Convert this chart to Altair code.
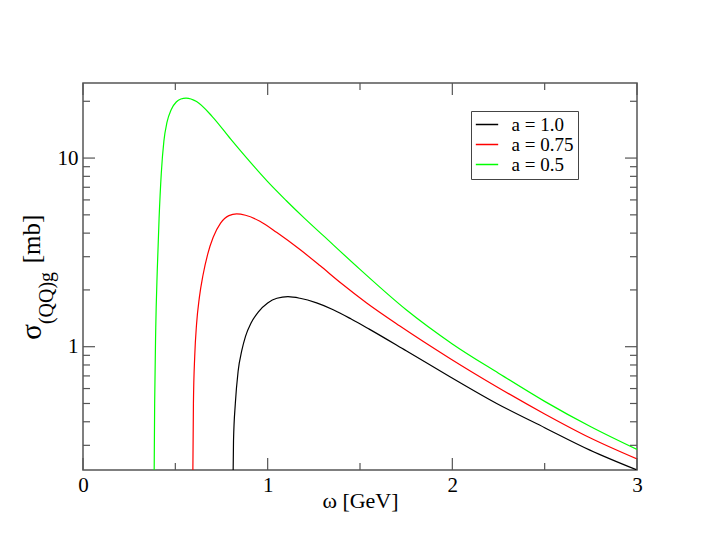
import altair as alt
import pandas as pd

# ---- data ----
x_a10 = [0.809, 0.815, 0.825, 0.840, 0.860, 0.880, 0.910, 0.950, 1.000, 1.050, 1.110,
         1.175, 1.265, 1.355, 1.450, 1.550, 1.750, 1.987, 2.240, 2.500, 2.745, 3.000]
y_a10 = [0.10, 0.316, 0.501, 0.741, 0.955, 1.135, 1.334, 1.531, 1.706, 1.807, 1.841,
         1.806, 1.706, 1.570, 1.406, 1.239, 0.951, 0.693, 0.500, 0.372, 0.283, 0.222]

x_a075 = [0.592, 0.598, 0.605, 0.615, 0.630, 0.650, 0.675, 0.705, 0.745, 0.790, 0.832,
          0.880, 0.958, 1.050, 1.175, 1.283, 1.400, 1.536, 1.716, 1.987, 2.240, 2.500,
          2.745, 3.000]
y_a075 = [0.10, 0.501, 0.891, 1.318, 1.820, 2.399, 3.090, 3.802, 4.519, 4.955, 5.058,
          4.977, 4.624, 4.027, 3.273, 2.692, 2.163, 1.706, 1.288, 0.867, 0.614, 0.440,
          0.329, 0.254]

x_a05 = [0.383, 0.388, 0.394, 0.402, 0.412, 0.424, 0.438, 0.455, 0.478, 0.505, 0.530,
         0.558, 0.615, 0.700, 0.800, 0.900, 1.000, 1.100, 1.200, 1.300, 1.500, 1.750,
         2.000, 2.250, 2.500, 2.750, 3.000]
y_a05 = [0.10, 0.501, 1.259, 2.512, 4.786, 8.318, 12.30, 15.49, 18.11, 19.82, 20.56,
         20.80, 19.95, 16.6, 12.6, 9.66, 7.50, 5.96, 4.79, 3.89, 2.57, 1.57,
         1.035, 0.724, 0.513, 0.376, 0.285]

series_names = ["a = 1.0", "a = 0.75", "a = 0.5"]
series_colors = ["#000000", "#ff0000", "#00ff00"]

x_major = [0, 1, 2, 3]
x_minor = [0.5, 1.5, 2.5]
y_major = [1, 10]
y_minor = [0.3, 0.4, 0.5, 0.6, 0.7, 0.8, 0.9, 2, 3, 4, 5, 6, 7, 8, 9, 20]

x_domain = [0, 3]
y_domain = [0.222, 25]

x_title = "ω [GeV]"
y_title_parts = ["σ", "(QQ)g", "[mb]"]

# ---- layout ----
W, H = 554, 387
FONT = "Liberation Serif"
AX = "#555555"
MAJ, MIN = 12, 7

rows = []
for name, xs, ys in zip(series_names, [x_a10, x_a075, x_a05], [y_a10, y_a075, y_a05]):
    for xv, yv in zip(xs, ys):
        rows.append({"x": xv, "y": yv, "series": name})
df = pd.DataFrame(rows)

xscale = alt.Scale(domain=x_domain, nice=False, zero=False)
yscale = alt.Scale(type="log", domain=y_domain, nice=False)

xaxis = alt.Axis(values=x_major, format="d", grid=False, domain=False, ticks=False,
                 tickSize=0, labelFont=FONT, labelFontSize=21, labelColor="black",
                 labelPadding=4, labelFlush=False, title=x_title, titleFont=FONT,
                 titleFontSize=22, titleFontWeight="normal", titleColor="black", titleY=37,
                 titleBaseline="alphabetic")
yaxis = alt.Axis(values=y_major, format="~g", grid=False, domain=False, ticks=False,
                 tickSize=0, labelFont=FONT, labelFontSize=21, labelColor="black",
                 labelPadding=5, labelFlush=False, title="")

lines = alt.Chart(df).mark_line(strokeWidth=1.2, interpolate="monotone", clip=True).encode(
    x=alt.X("x:Q", scale=xscale, axis=xaxis),
    y=alt.Y("y:Q", scale=yscale, axis=yaxis),
    color=alt.Color("series:N", sort=series_names,
                    scale=alt.Scale(domain=series_names, range=series_colors),
                    legend=alt.Legend(title=None, orient="none", legendX=388, legendY=28,
                                      strokeColor="#444444", padding=4, symbolType="stroke",
                                      symbolSize=500, symbolStrokeWidth=1.5,
                                      labelFont=FONT, labelFontSize=19, labelColor="black",
                                      labelOffset=12.6, rowPadding=0, clipHeight=19.2)),
)

def xticks(vals, length):
    d = pd.DataFrame({"x": vals})
    bottom = alt.Chart(d).mark_rule(color=AX, strokeWidth=1.2).encode(
        x=alt.X("x:Q", scale=xscale, axis=xaxis), y=alt.value(H), y2=alt.value(H - length))
    top = alt.Chart(d).mark_rule(color=AX, strokeWidth=1.2).encode(
        x=alt.X("x:Q", scale=xscale, axis=xaxis), y=alt.value(0), y2=alt.value(length))
    return [bottom, top]

def yticks(vals, length):
    d = pd.DataFrame({"y": vals})
    left = alt.Chart(d).mark_rule(color=AX, strokeWidth=1.2).encode(
        y=alt.Y("y:Q", scale=yscale, axis=yaxis), x=alt.value(0), x2=alt.value(length))
    right = alt.Chart(d).mark_rule(color=AX, strokeWidth=1.2).encode(
        y=alt.Y("y:Q", scale=yscale, axis=yaxis), x=alt.value(W - length), x2=alt.value(W))
    return [left, right]

tick_layers = xticks(x_major, MAJ) + xticks(x_minor, MIN) + yticks(y_major, MAJ) + yticks(y_minor, MIN)

def title_part(txt, xpos, ypos, size):
    return alt.Chart(pd.DataFrame({"t": [txt]})).mark_text(
        angle=270, font=FONT, fontSize=size, color="black", align="center",
        baseline="alphabetic").encode(text="t:N", x=alt.value(xpos), y=alt.value(ypos))

ytitle = [
    title_part(y_title_parts[0], -42, 249, 29),
    title_part(y_title_parts[1], -30, 215, 20),
    title_part(y_title_parts[2], -43, 156, 25),
]

chart = alt.layer(lines, *tick_layers, *ytitle).properties(
    width=W, height=H,
    autosize=alt.AutoSizeParams(type="none"),
    padding={"left": 75, "top": 75, "right": 72, "bottom": 72},
    background="white",
).configure_view(stroke=AX, strokeWidth=1.5)

chart.save("out.html", embed_options={"renderer": "svg", "actions": False})
